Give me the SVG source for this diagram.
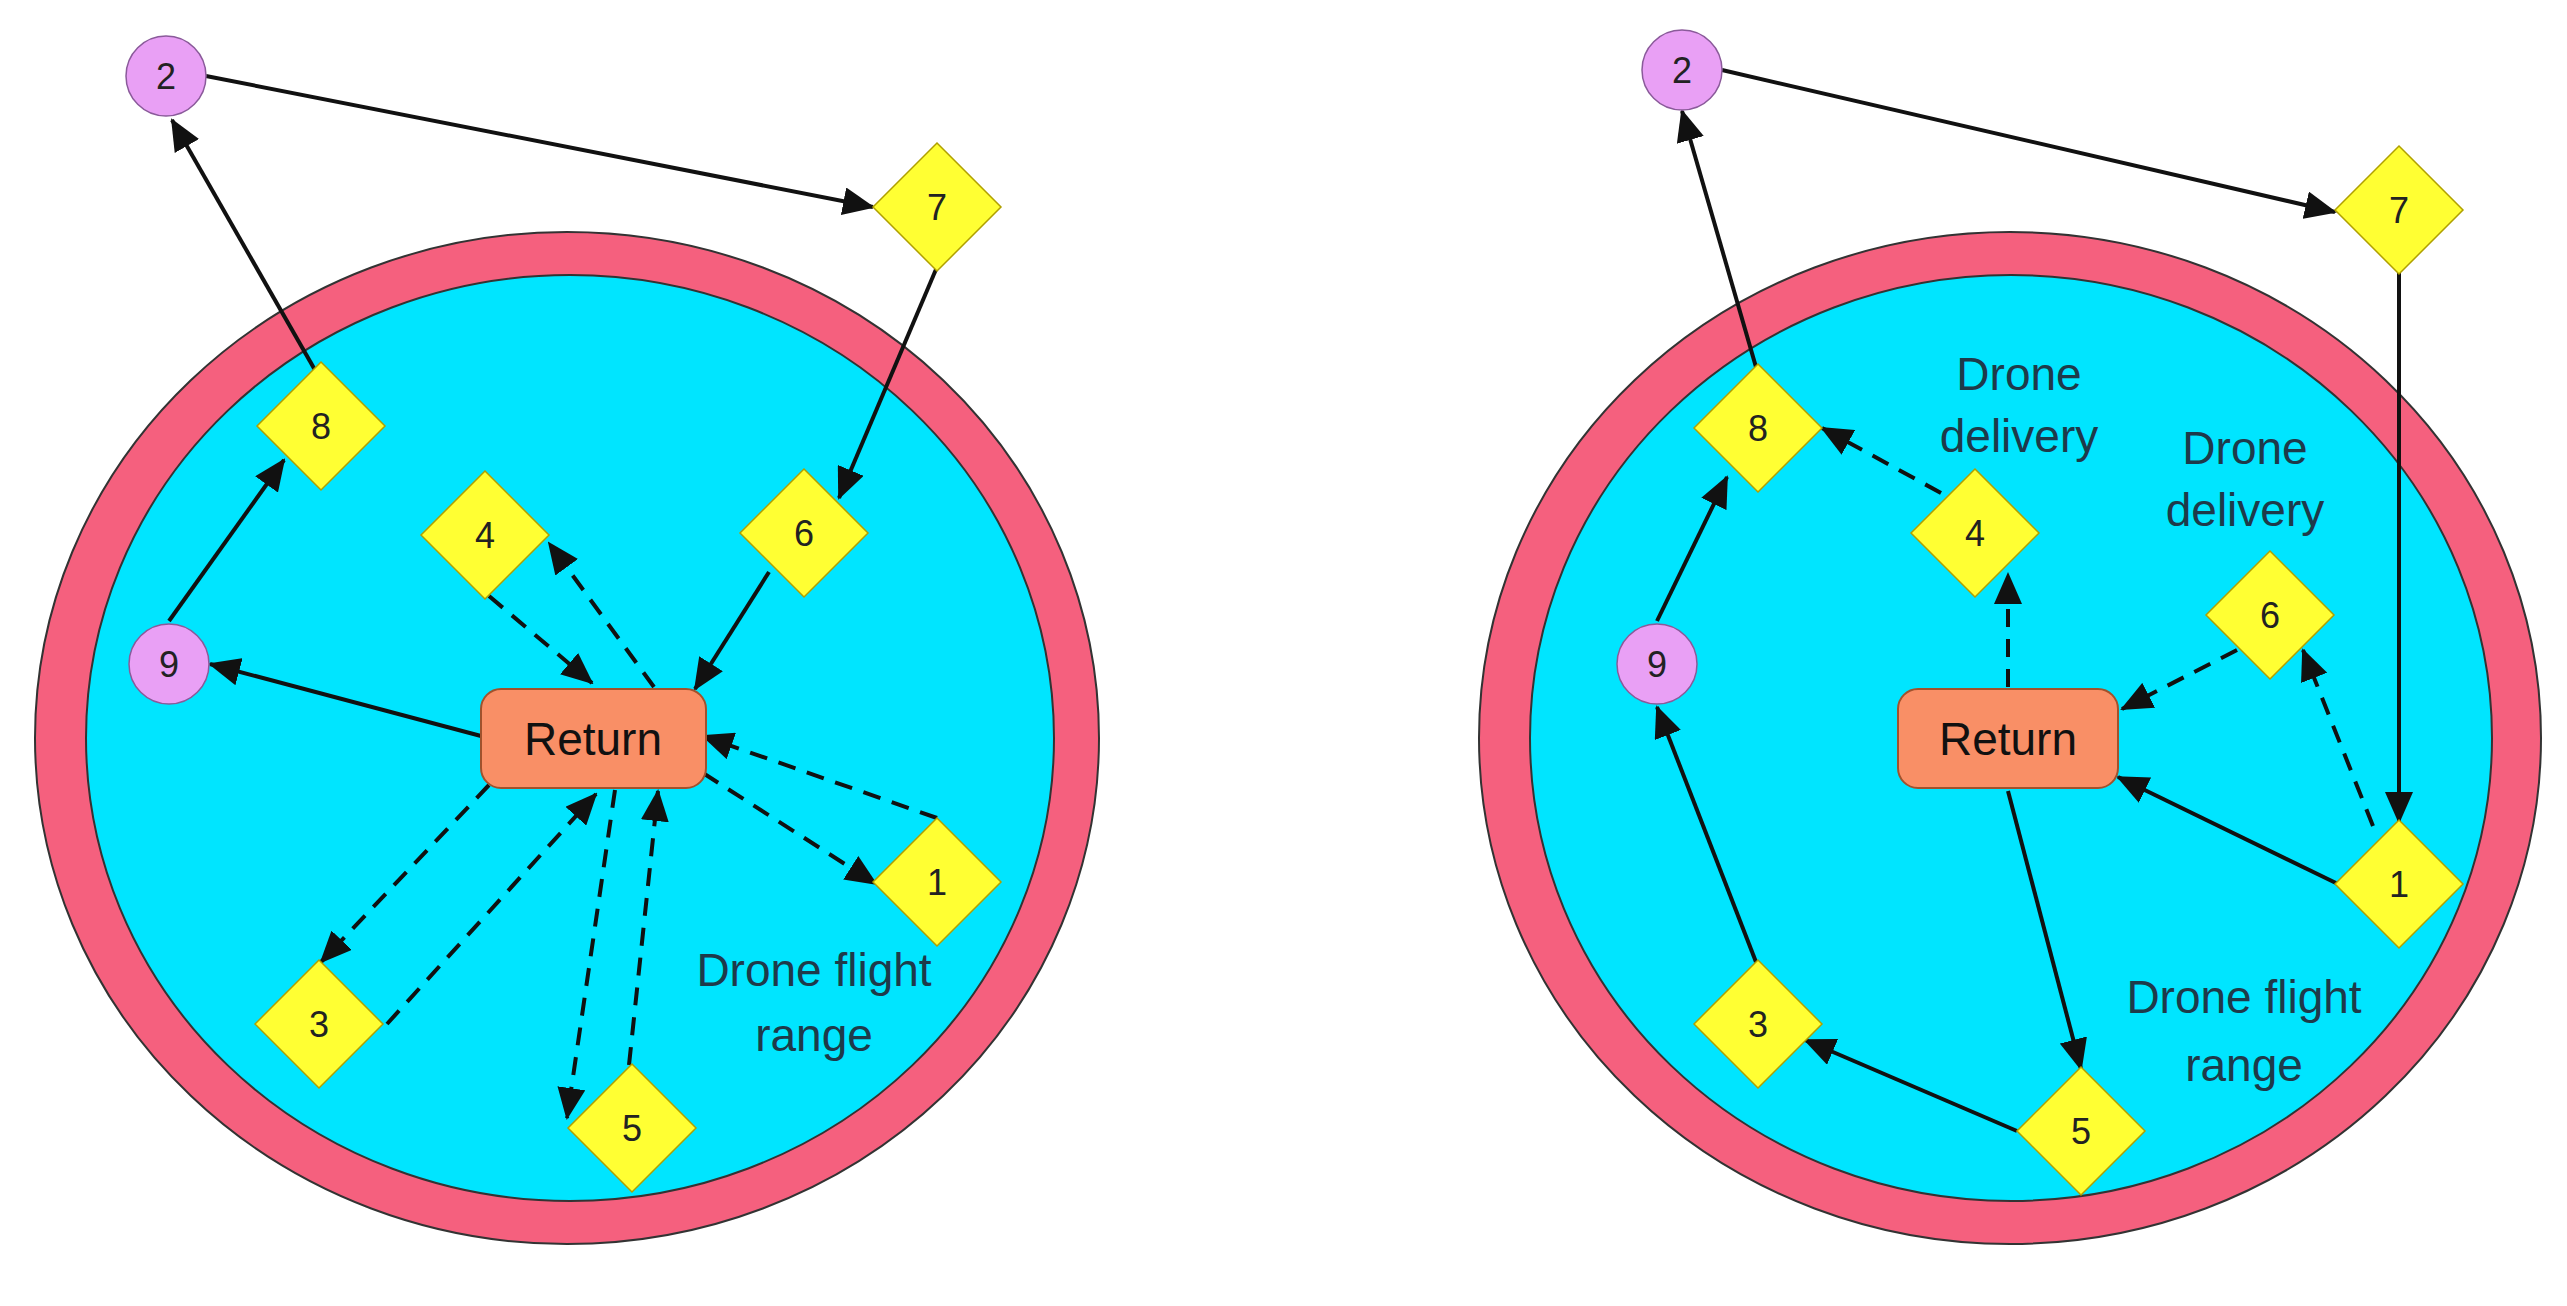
<svg xmlns="http://www.w3.org/2000/svg" width="2567" height="1306" viewBox="0 0 2567 1306">
<style>
.ring{fill:#F5607E;stroke:#333;stroke-width:2}
.inner{fill:#00E5FF;stroke:#333;stroke-width:2}
.dia{fill:#FFFF33;stroke:#B0A000;stroke-width:1.5}
.cir{fill:#E9A0F5;stroke:#8A5A9A;stroke-width:1.5}
.ret{fill:#F98F66;stroke:#A0522D;stroke-width:2}
.lbl{font-family:"Liberation Sans",Arial,sans-serif;font-size:36px;fill:#222;text-anchor:middle;dominant-baseline:central}
.rlbl{font-family:"Liberation Sans",Arial,sans-serif;font-size:46px;fill:#111;text-anchor:middle;dominant-baseline:central}
.note{font-family:"Liberation Sans",Arial,sans-serif;font-size:46px;fill:#1E3A4A;text-anchor:middle}
.e{fill:none;stroke:#111;stroke-width:4;marker-end:url(#ah)}
.d{stroke-dasharray:18 12}
</style>
<defs>
<marker id="ah" markerUnits="userSpaceOnUse" markerWidth="32" markerHeight="28" refX="30" refY="14" orient="auto">
<path d="M0,0 L32,14 L0,28 Z" fill="#111"/>
</marker>
</defs>
<g id="rangeL"><ellipse class="ring" cx="567" cy="738" rx="532" ry="506"/><ellipse class="inner" cx="570" cy="738" rx="484" ry="463"/></g>
<g id="rangeR"><ellipse class="ring" cx="2010" cy="738" rx="531" ry="506"/><ellipse class="inner" cx="2011" cy="738" rx="481" ry="463"/></g>
<g id="edges">
<line class="e" x1="206" y1="76" x2="873" y2="207"/>
<line class="e" x1="315" y1="370" x2="172" y2="120"/>
<line class="e" x1="937" y1="267" x2="839" y2="498"/>
<line class="e" x1="169" y1="621" x2="284" y2="460"/>
<line class="e" x1="481" y1="736" x2="210" y2="664"/>
<line class="e" x1="769" y1="572" x2="695" y2="689"/>
<line class="e d" x1="489" y1="596" x2="592" y2="683"/>
<line class="e d" x1="654" y1="687" x2="549" y2="543"/>
<line class="e d" x1="937" y1="818" x2="703" y2="736"/>
<line class="e d" x1="703" y1="773" x2="876" y2="884"/>
<line class="e d" x1="489" y1="785" x2="321" y2="962"/>
<line class="e d" x1="387" y1="1024" x2="596" y2="794"/>
<line class="e d" x1="615" y1="790" x2="567" y2="1118"/>
<line class="e d" x1="629" y1="1065" x2="658" y2="791"/>
<line class="e" x1="1722" y1="70" x2="2335" y2="212"/>
<line class="e" x1="1758" y1="374" x2="1682" y2="111"/>
<line class="e" x1="2399" y1="271" x2="2399" y2="822"/>
<line class="e d" x1="1941" y1="493" x2="1822" y2="428"/>
<line class="e d" x1="2008" y1="687" x2="2008" y2="574"/>
<line class="e d" x1="2237" y1="650" x2="2122" y2="709"/>
<line class="e d" x1="2373" y1="826" x2="2303" y2="650"/>
<line class="e" x1="2338" y1="884" x2="2118" y2="777"/>
<line class="e" x1="2008" y1="791" x2="2081" y2="1069"/>
<line class="e" x1="2017" y1="1131" x2="1805" y2="1040"/>
<line class="e" x1="1756" y1="962" x2="1657" y2="707"/>
<line class="e" x1="1657" y1="621" x2="1727" y2="477"/>
</g>
<g id="L2"><circle class="cir" cx="166" cy="76" r="40"/><text class="lbl" x="166" y="76">2</text></g>
<g id="L7"><path class="dia" d="M937,143 L1001,207 L937,271 L873,207 Z"/><text class="lbl" x="937" y="207">7</text></g>
<g id="L8"><path class="dia" d="M321,362 L385,426 L321,490 L257,426 Z"/><text class="lbl" x="321" y="426">8</text></g>
<g id="L4"><path class="dia" d="M485,471 L549,535 L485,599 L421,535 Z"/><text class="lbl" x="485" y="535">4</text></g>
<g id="L6"><path class="dia" d="M804,469 L868,533 L804,597 L740,533 Z"/><text class="lbl" x="804" y="533">6</text></g>
<g id="L9"><circle class="cir" cx="169" cy="664" r="40"/><text class="lbl" x="169" y="664">9</text></g>
<g id="LR"><rect class="ret" x="481" y="689" width="225" height="99" rx="20"/><text class="rlbl" x="593" y="739">Return</text></g>
<g id="L1"><path class="dia" d="M937,818 L1001,882 L937,946 L873,882 Z"/><text class="lbl" x="937" y="882">1</text></g>
<g id="L3"><path class="dia" d="M319,960 L383,1024 L319,1088 L255,1024 Z"/><text class="lbl" x="319" y="1024">3</text></g>
<g id="L5"><path class="dia" d="M632,1064 L696,1128 L632,1192 L568,1128 Z"/><text class="lbl" x="632" y="1128">5</text></g>
<text class="note" x="814" y="986">Drone flight</text>
<text class="note" x="814" y="1051">range</text>
<g id="R2"><circle class="cir" cx="1682" cy="70" r="40"/><text class="lbl" x="1682" y="70">2</text></g>
<g id="R7"><path class="dia" d="M2399,146 L2463,210 L2399,274 L2335,210 Z"/><text class="lbl" x="2399" y="210">7</text></g>
<g id="R8"><path class="dia" d="M1758,364 L1822,428 L1758,492 L1694,428 Z"/><text class="lbl" x="1758" y="428">8</text></g>
<g id="R4"><path class="dia" d="M1975,469 L2039,533 L1975,597 L1911,533 Z"/><text class="lbl" x="1975" y="533">4</text></g>
<g id="R6"><path class="dia" d="M2270,551 L2334,615 L2270,679 L2206,615 Z"/><text class="lbl" x="2270" y="615">6</text></g>
<g id="R9"><circle class="cir" cx="1657" cy="664" r="40"/><text class="lbl" x="1657" y="664">9</text></g>
<g id="RR"><rect class="ret" x="1898" y="689" width="220" height="99" rx="20"/><text class="rlbl" x="2008" y="739">Return</text></g>
<g id="R1"><path class="dia" d="M2399,820 L2463,884 L2399,948 L2335,884 Z"/><text class="lbl" x="2399" y="884">1</text></g>
<g id="R3"><path class="dia" d="M1758,960 L1822,1024 L1758,1088 L1694,1024 Z"/><text class="lbl" x="1758" y="1024">3</text></g>
<g id="R5"><path class="dia" d="M2081,1067 L2145,1131 L2081,1195 L2017,1131 Z"/><text class="lbl" x="2081" y="1131">5</text></g>
<text class="note" x="2019" y="390">Drone</text>
<text class="note" x="2019" y="452">delivery</text>
<text class="note" x="2245" y="464">Drone</text>
<text class="note" x="2245" y="526">delivery</text>
<text class="note" x="2244" y="1013">Drone flight</text>
<text class="note" x="2244" y="1081">range</text>
</svg>
